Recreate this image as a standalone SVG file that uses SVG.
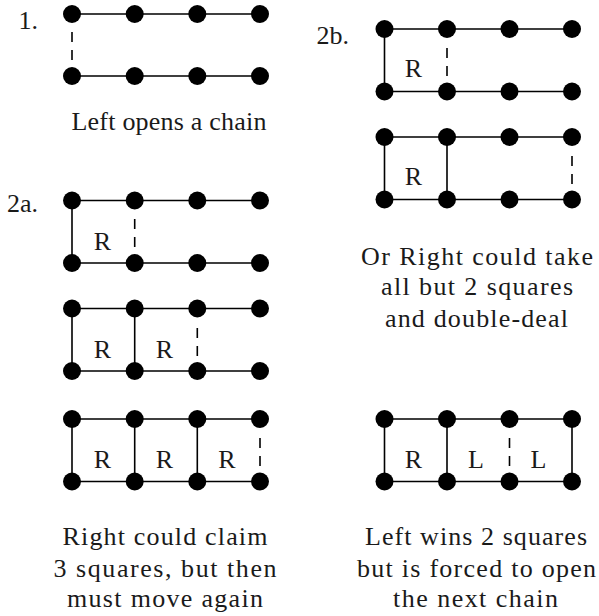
<svg xmlns="http://www.w3.org/2000/svg" width="599" height="616" viewBox="0 0 599 616">
<style>
.e{stroke:#000;stroke-width:1.6;fill:none}
.d{stroke:#000;stroke-width:1.6;stroke-dasharray:10 8;fill:none}
.dot{fill:#000}
.t{font-family:'Liberation Serif','DejaVu Serif',serif;font-size:26px;fill:#1a1a1a}
.c{text-anchor:middle}
.lab{text-anchor:end}
</style>
<rect width="599" height="616" fill="#fff"/>
<g id="connectors">
<path class="e" d="M72 14H260M72 76H260"/>
<path class="d" d="M72 32V60"/>
<path class="e" d="M72 200.5H260M72 263H260M72 200.5V263"/>
<path class="d" d="M134.7 219V247"/>
<path class="e" d="M72 308.5H260M72 371H260M72 308.5V371M134.7 308.5V371"/>
<path class="d" d="M197.3 328V356"/>
<path class="e" d="M72 419H260M72 481.5H260M72 419V481.5M134.7 419V481.5M197.3 419V481.5"/>
<path class="d" d="M260 438V466"/>
<path class="e" d="M384.5 29H572M384.5 91.5H572M384.5 29V91.5"/>
<path class="d" d="M447 48V76"/>
<path class="e" d="M384.5 137H572M384.5 199.5H572M384.5 137V199.5M447 137V199.5"/>
<path class="d" d="M572 156V184"/>
<path class="e" d="M384.5 419H572M384.5 481.5H572M384.5 419V481.5M447 419V481.5M572 419V481.5"/>
<path class="d" d="M509.5 438V466"/>
</g>
<g id="panel1" class="t">
<text class="lab" x="38" y="29">1.</text>
<g class="dot">
<circle cx="72" cy="14" r="9"/><circle cx="134.7" cy="14" r="9"/><circle cx="197.3" cy="14" r="9"/><circle cx="260" cy="14" r="9"/>
<circle cx="72" cy="76" r="9"/><circle cx="134.7" cy="76" r="9"/><circle cx="197.3" cy="76" r="9"/><circle cx="260" cy="76" r="9"/>
</g>
<text class="c" x="169" y="130" textLength="195">Left opens a chain</text>
</g>
<g id="panel2a-1" class="t">
<text class="lab" x="38" y="212">2a.</text>
<g class="dot">
<circle cx="72" cy="200.5" r="9"/><circle cx="134.7" cy="200.5" r="9"/><circle cx="197.3" cy="200.5" r="9"/><circle cx="260" cy="200.5" r="9"/>
<circle cx="72" cy="263" r="9"/><circle cx="134.7" cy="263" r="9"/><circle cx="197.3" cy="263" r="9"/><circle cx="260" cy="263" r="9"/>
</g>
<text class="c" x="102.5" y="250">R</text>
</g>
<g id="panel2a-2" class="t">
<g class="dot">
<circle cx="72" cy="308.5" r="9"/><circle cx="134.7" cy="308.5" r="9"/><circle cx="197.3" cy="308.5" r="9"/><circle cx="260" cy="308.5" r="9"/>
<circle cx="72" cy="371" r="9"/><circle cx="134.7" cy="371" r="9"/><circle cx="197.3" cy="371" r="9"/><circle cx="260" cy="371" r="9"/>
</g>
<text class="c" x="102.5" y="358">R</text>
<text class="c" x="164.5" y="358">R</text>
</g>
<g id="panel2a-3" class="t">
<g class="dot">
<circle cx="72" cy="419" r="9"/><circle cx="134.7" cy="419" r="9"/><circle cx="197.3" cy="419" r="9"/><circle cx="260" cy="419" r="9"/>
<circle cx="72" cy="481.5" r="9"/><circle cx="134.7" cy="481.5" r="9"/><circle cx="197.3" cy="481.5" r="9"/><circle cx="260" cy="481.5" r="9"/>
</g>
<text class="c" x="102.5" y="468">R</text>
<text class="c" x="164.5" y="468">R</text>
<text class="c" x="227" y="468">R</text>
<text class="c" x="165" y="545" textLength="205">Right could claim</text>
<text class="c" x="165" y="577" textLength="223">3 squares, but then</text>
<text class="c" x="165" y="607" textLength="196">must move again</text>
</g>
<g id="panel2b-1" class="t">
<text class="lab" x="349" y="44">2b.</text>
<g class="dot">
<circle cx="384.5" cy="29" r="9"/><circle cx="447" cy="29" r="9"/><circle cx="509.5" cy="29" r="9"/><circle cx="572" cy="29" r="9"/>
<circle cx="384.5" cy="91.5" r="9"/><circle cx="447" cy="91.5" r="9"/><circle cx="509.5" cy="91.5" r="9"/><circle cx="572" cy="91.5" r="9"/>
</g>
<text class="c" x="413.5" y="77">R</text>
</g>
<g id="panel2b-2" class="t">
<g class="dot">
<circle cx="384.5" cy="137" r="9"/><circle cx="447" cy="137" r="9"/><circle cx="509.5" cy="137" r="9"/><circle cx="572" cy="137" r="9"/>
<circle cx="384.5" cy="199.5" r="9"/><circle cx="447" cy="199.5" r="9"/><circle cx="509.5" cy="199.5" r="9"/><circle cx="572" cy="199.5" r="9"/>
</g>
<text class="c" x="413.5" y="185">R</text>
<text class="c" x="477" y="265" textLength="232">Or Right could take</text>
<text class="c" x="477" y="295" textLength="192">all but 2 squares</text>
<text class="c" x="476.5" y="327" textLength="183">and double-deal</text>
</g>
<g id="panel2b-3" class="t">
<g class="dot">
<circle cx="384.5" cy="419" r="9"/><circle cx="447" cy="419" r="9"/><circle cx="509.5" cy="419" r="9"/><circle cx="572" cy="419" r="9"/>
<circle cx="384.5" cy="481.5" r="9"/><circle cx="447" cy="481.5" r="9"/><circle cx="509.5" cy="481.5" r="9"/><circle cx="572" cy="481.5" r="9"/>
</g>
<text class="c" x="413.5" y="467.5">R</text>
<text class="c" x="476" y="467.5">L</text>
<text class="c" x="538.5" y="467.5">L</text>
<text class="c" x="476" y="545" textLength="222">Left wins 2 squares</text>
<text class="c" x="476.5" y="577" textLength="239">but is forced to open</text>
<text class="c" x="475.5" y="607" textLength="165">the next chain</text>
</g>
</svg>
